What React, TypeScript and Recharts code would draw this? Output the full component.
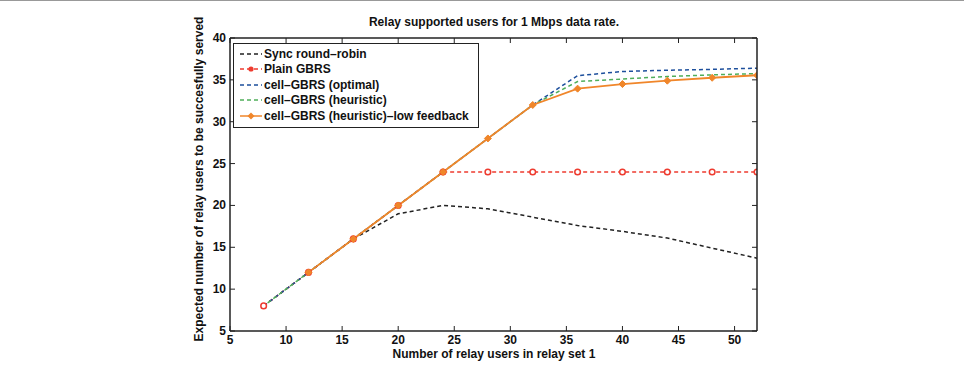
import React from 'react';
import { LineChart, Line, XAxis, YAxis } from 'recharts';

const users = [8, 12, 16, 20, 24, 28, 32, 36, 40, 44, 48, 52];
const syncRR = [8, 12, 16, 19, 20, 19.6, 18.6, 17.6, 16.9, 16.1, 14.9, 13.7];
const plainGbrs = [8, 12, 16, 20, 24, 24, 24, 24, 24, 24, 24, 24];
const cellOptimal = [8, 12, 16, 20, 24, 28, 32, 35.5, 36.0, 36.15, 36.25, 36.4];
const cellHeuristic = [8, 12, 16, 20, 24, 28, 32, 34.8, 35.1, 35.4, 35.6, 35.75];
const cellLowFb = [null, 12, 16, 20, 24, 28, 32, 33.95, 34.5, 34.9, 35.25, 35.55];

const xTicks = [5, 10, 15, 20, 25, 30, 35, 40, 45, 50];
const yTicks = [5, 10, 15, 20, 25, 30, 35, 40];

const data = users.map((u, i) => ({
  users: u,
  sync: syncRR[i],
  plain: plainGbrs[i],
  optimal: cellOptimal[i],
  heuristic: cellHeuristic[i],
  lowfb: cellLowFb[i],
}));

const FONT = '"Liberation Sans", Arial, sans-serif';
const W = 964;
const H = 366;
const TOP = 38;
const BOTTOM = 331;
const LEFT = 230;
const RIGHT = 757;

const series = [
  { key: 'sync', name: 'Sync round\u2013robin', color: '#222222', dash: '4 3', marker: null },
  { key: 'plain', name: 'Plain GBRS', color: '#ee3b2f', dash: '4 3', marker: 'circle' },
  { key: 'optimal', name: 'cell\u2013GBRS (optimal)', color: '#1d4f9c', dash: '4 3', marker: null },
  { key: 'heuristic', name: 'cell\u2013GBRS (heuristic)', color: '#4fae5a', dash: '4 3', marker: null },
  { key: 'lowfb', name: 'cell\u2013GBRS (heuristic)\u2013low feedback', color: '#f0862a', dash: undefined, marker: 'diamond' },
];

const XTick = (props: any) => {
  const { x, y, payload } = props;
  return (
    <g>
      <line x1={x} x2={x} y1={BOTTOM} y2={BOTTOM - 5} stroke="#222" strokeWidth={1} />
      <line x1={x} x2={x} y1={TOP} y2={TOP + 5} stroke="#222" strokeWidth={1} />
      <text x={x} y={y} dy={10} textAnchor="middle" fontFamily={FONT} fontSize={12} fontWeight="bold" fill="#111">
        {payload.value}
      </text>
    </g>
  );
};

const YTick = (props: any) => {
  const { x, y, payload } = props;
  return (
    <g>
      <line x1={LEFT} x2={LEFT + 5} y1={y} y2={y} stroke="#222" strokeWidth={1} />
      <line x1={RIGHT} x2={RIGHT - 5} y1={y} y2={y} stroke="#222" strokeWidth={1} />
      <text x={x} y={y} dy={4} textAnchor="end" fontFamily={FONT} fontSize={12} fontWeight="bold" fill="#111">
        {payload.value}
      </text>
    </g>
  );
};

const CircleDot = (props: any) => {
  const { cx, cy, index } = props;
  if (cx == null || cy == null) return <g key={index} />;
  return <circle key={index} cx={cx} cy={cy} r={2.8} fill="#fff" stroke="#ee3b2f" strokeWidth={1.5} />;
};

const DiamondDot = (props: any) => {
  const { cx, cy, index } = props;
  if (cx == null || cy == null) return <g key={index} />;
  const s = 3.5;
  return (
    <path
      key={index}
      d={`M${cx},${cy - s} L${cx + s},${cy} L${cx},${cy + s} L${cx - s},${cy} Z`}
      fill="#f0862a"
      stroke="#f0862a"
      strokeWidth={1}
    />
  );
};

const LegendBox = () => (
  <div
    style={{
      position: 'absolute',
      left: 233,
      top: 43,
      border: '1px solid #222',
      background: '#fff',
      width: 244,
      padding: '2px 0 3px 0',
      fontFamily: FONT,
      fontSize: 12,
      fontWeight: 'bold',
      color: '#111',
    }}
  >
    {series.map((s) => (
      <div key={s.key} style={{ display: 'flex', alignItems: 'center', height: 15.5 }}>
        <svg width={30} height={12} style={{ flex: 'none' }}>
          <line x1={6} x2={28} y1={6} y2={6} stroke={s.color} strokeWidth={1.5} strokeDasharray={s.dash} />
          {s.marker === 'circle' && <circle cx={17} cy={6} r={2.6} fill={s.color} />}
          {s.marker === 'diamond' && <path d="M17,2.5 L20.5,6 L17,9.5 L13.5,6 Z" fill={s.color} />}
        </svg>
        <span style={{ whiteSpace: 'nowrap' }}>{s.name}</span>
      </div>
    ))}
  </div>
);

export default function App() {
  return (
    <div style={{ position: 'absolute', left: 0, top: 0, width: W, height: H, background: '#fff' }}>
      <div style={{ position: 'absolute', left: 0, top: 0, width: W, height: 1, background: '#999' }} />
      <LineChart
        width={W}
        height={H}
        data={data}
        margin={{ top: TOP, right: W - RIGHT, bottom: H - BOTTOM - 25, left: LEFT - 40 }}
      >
        <XAxis
          dataKey="users"
          type="number"
          domain={[5, 52]}
          allowDataOverflow
          ticks={xTicks}
          interval={0}
          height={25}
          tickSize={0}
          tickMargin={3}
          tickLine={false}
          axisLine={{ stroke: '#222', strokeWidth: 1.5 }}
          tick={<XTick />}
        />
        <YAxis
          type="number"
          domain={[5, 40]}
          allowDataOverflow
          ticks={yTicks}
          interval={0}
          width={40}
          tickSize={0}
          tickMargin={4}
          tickLine={false}
          axisLine={{ stroke: '#222', strokeWidth: 1.5 }}
          tick={<YTick />}
        />
        <Line dataKey="sync" stroke="#222222" strokeWidth={1.5} strokeDasharray="4 3" dot={false} activeDot={false} isAnimationActive={false} />
        <Line dataKey="plain" stroke="#ee3b2f" strokeWidth={1.5} strokeDasharray="4 3" dot={<CircleDot />} activeDot={false} isAnimationActive={false} />
        <Line dataKey="optimal" stroke="#1d4f9c" strokeWidth={1.5} strokeDasharray="4 3" dot={false} activeDot={false} isAnimationActive={false} />
        <Line dataKey="heuristic" stroke="#4fae5a" strokeWidth={1.5} strokeDasharray="4 3" strokeDashoffset={2} dot={false} activeDot={false} isAnimationActive={false} />
        <Line dataKey="lowfb" stroke="#f0862a" strokeWidth={1.8} dot={<DiamondDot />} activeDot={false} isAnimationActive={false} />
      </LineChart>
      <LegendBox />
      <svg width={W} height={H} style={{ position: 'absolute', left: 0, top: 0, pointerEvents: 'none' }}>
        <line x1={LEFT} x2={RIGHT} y1={TOP} y2={TOP} stroke="#222" strokeWidth={1.5} />
        <line x1={RIGHT} x2={RIGHT} y1={TOP} y2={BOTTOM} stroke="#222" strokeWidth={1.5} />
        <text x={494} y={26} textAnchor="middle" fontFamily={FONT} fontSize={12} fontWeight="bold" fill="#111">
          Relay supported users for 1 Mbps data rate.
        </text>
        <text x={494} y={358} textAnchor="middle" fontFamily={FONT} fontSize={12} fontWeight="bold" fill="#111">
          Number of relay users in relay set 1
        </text>
        <text
          x={0}
          y={0}
          transform="translate(203,179) rotate(-90)"
          textAnchor="middle"
          fontFamily={FONT}
          fontSize={12}
          fontWeight="bold"
          fill="#111"
        >
          Expected number of relay users to be succesfully served
        </text>
      </svg>
    </div>
  );
}
